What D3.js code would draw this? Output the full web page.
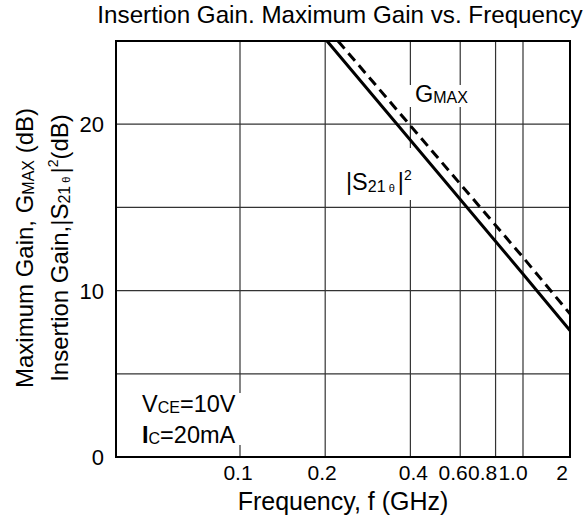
<!DOCTYPE html>
<html>
<head>
<meta charset="utf-8">
<script src="https://cdn.jsdelivr.net/npm/d3@7"></script>
<style>
  html, body { margin: 0; padding: 0; background: #fff; }
  svg { display: block; font-family: "Liberation Sans", Arial, sans-serif; }
</style>
</head>
<body>
<script>
// ---- data ----
const xTicks = [0.1, 0.2, 0.4, 0.6, 0.8, 1.0, 2];
const xTickLabels = ["0.1", "0.2", "0.4", "0.6", "0.8", "1.0", "2"];
const yGrid = [5, 10, 15, 20];
const yTicks = [0, 10, 20];
const yTickLabels = ["0", "10", "20"];
// |S21e|^2 (solid)
const s21Freq = [0.203, 1.0, 2.0];
const s21Gain = [25, 11.0, 7.6];
// GMAX (dashed)
const gmaxFreq = [0.222, 1.0, 2.0];
const gmaxGain = [25, 12.0, 8.6];

const W = 587, H = 524;
const L = 116, R = 570, T = 41, B = 457;

const svg = d3.select("body").append("svg").attr("width", W).attr("height", H);

// Axis is log but with a compressed last segment (1.0 -> 2), as in the original.
const x = d3.scaleLog().domain([0.03646, 0.1, 1.0, 2]).range([L, 240, 523, R]);
const y = d3.scaleLinear().domain([0, 25]).range([B, T]);

// grid
const g = svg.append("g");
g.selectAll("line.v").data(xTicks.filter(d => d < 2)).enter().append("line")
  .attr("x1", d => x(d)).attr("x2", d => x(d)).attr("y1", T).attr("y2", B)
  .attr("stroke", "#333").attr("stroke-width", 1.2);
g.selectAll("line.h").data(yGrid).enter().append("line")
  .attr("x1", L).attr("x2", R).attr("y1", d => y(d)).attr("y2", d => y(d))
  .attr("stroke", "#333").attr("stroke-width", 1.2);

// white boxes behind labels
svg.append("rect").attr("x", 128).attr("y", 393).attr("width", 113).attr("height", 52).attr("fill", "#fff");
svg.append("rect").attr("x", 404).attr("y", 85).attr("width", 62).attr("height", 22).attr("fill", "#fff");
svg.append("rect").attr("x", 345).attr("y", 148).attr("width", 68).attr("height", 52).attr("fill", "#fff");

// curves
const line = d3.line().x(d => x(d[0])).y(d => y(d[1]));
svg.append("path").datum(s21Freq.map((f, i) => [f, s21Gain[i]]))
  .attr("d", line).attr("fill", "none").attr("stroke", "#000").attr("stroke-width", 3);
svg.append("path").datum(gmaxFreq.map((f, i) => [f, gmaxGain[i]]))
  .attr("d", line).attr("fill", "none").attr("stroke", "#000").attr("stroke-width", 3)
  .attr("stroke-dasharray", "10,6");

// frame
svg.append("rect").attr("x", L).attr("y", T).attr("width", R - L).attr("height", B - T)
  .attr("fill", "none").attr("stroke", "#000").attr("stroke-width", 2);

// x tick labels (the original packs the crowded labels slightly left of their lines)
const xLabelShift = [-2, -3, 3, -7, -13, -10, -8];
svg.selectAll("text.xt").data(xTicks).enter().append("text")
  .attr("x", (d, i) => x(d) + xLabelShift[i]).attr("y", 480).attr("text-anchor", "middle")
  .attr("font-size", 21).text((d, i) => xTickLabels[i]);
// y tick labels
svg.selectAll("text.yt").data(yTicks).enter().append("text")
  .attr("x", 104).attr("y", d => y(d) + 8).attr("text-anchor", "end")
  .attr("font-size", 22).text((d, i) => yTickLabels[i]);

// title
svg.append("text").attr("x", 340).attr("y", 23).attr("text-anchor", "middle")
  .attr("font-size", 24.2).text("Insertion Gain. Maximum Gain vs. Frequency");

// x axis title
svg.append("text").attr("x", 343).attr("y", 510).attr("text-anchor", "middle")
  .attr("font-size", 25).text("Frequency, f (GHz)");

// y axis title (two lines)
const yt1 = svg.append("text").attr("transform", "translate(33,248) rotate(-90)")
  .attr("text-anchor", "middle").attr("font-size", 24);
yt1.append("tspan").text("Maximum Gain, G");
yt1.append("tspan").attr("font-size", 16).attr("dy", 1).text("MAX");
yt1.append("tspan").attr("dy", -1).text(" (dB)");

const yt2 = svg.append("text").attr("transform", "translate(68,248) rotate(-90)")
  .attr("text-anchor", "middle").attr("font-size", 24);
yt2.append("tspan").text("Insertion Gain,|S");
yt2.append("tspan").attr("font-size", 16).attr("dy", 2).text("21");
yt2.append("tspan").attr("font-size", 11).text(" θ ");
yt2.append("tspan").attr("dy", -2).text("|");
yt2.append("tspan").attr("font-size", 14).attr("dy", -10).text("2");
yt2.append("tspan").attr("dy", 10).text("(dB)");

// GMAX label
const gl = svg.append("text").attr("x", 415).attr("y", 102).attr("font-size", 23.5);
gl.append("tspan").text("G");
gl.append("tspan").attr("font-size", 16).attr("dy", 1).text("MAX");

// |S21e|^2 label
const sl = svg.append("text").attr("x", 346).attr("y", 190).attr("font-size", 23.5);
sl.append("tspan").text("|S");
sl.append("tspan").attr("font-size", 16).attr("dy", 2).text("21");
sl.append("tspan").attr("font-size", 11).text(" θ ");
sl.append("tspan").attr("dy", -2).text("|");
sl.append("tspan").attr("font-size", 14).attr("dy", -10).text("2");

// condition labels
const c1 = svg.append("text").attr("x", 142).attr("y", 412).attr("font-size", 23.5);
c1.append("tspan").text("V");
c1.append("tspan").attr("font-size", 16).attr("dy", 1).text("CE");
c1.append("tspan").attr("dy", -1).text("=10V");
const c2 = svg.append("text").attr("x", 142).attr("y", 443).attr("font-size", 23.5);
c2.append("tspan").attr("font-weight", "bold").text("I");
c2.append("tspan").attr("font-size", 16).attr("dy", 1).text("C");
c2.append("tspan").attr("dy", -1).text("=20mA");
</script>
</body>
</html>
